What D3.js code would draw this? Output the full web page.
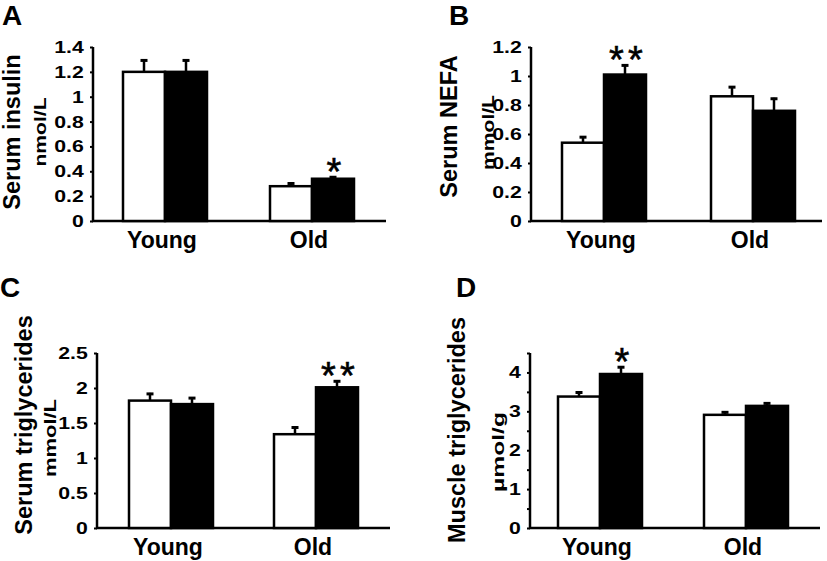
<!DOCTYPE html>
<html><head><meta charset="utf-8">
<script src="https://cdn.jsdelivr.net/npm/d3@7"></script>
<style>
html,body{margin:0;padding:0;background:#fff;}
text{font-family:"Liberation Sans",Arial,sans-serif;font-weight:bold;fill:#000;}
text.sig{font-weight:normal;stroke:#000;stroke-width:0.6px;}
</style></head>
<body>
<svg id="chart" width="827" height="561"></svg>
<script>
// ---- data ----
const groups = ["Young", "Old"];
const seriesNames = ["Control", "Treated"];

const insulinControl = [1.20, 0.28];
const insulinTreated = [1.20, 0.34];
const insulinErrControl = [0.10, 0.03];
const insulinErrTreated = [0.10, 0.02];
const insulinSig = ["", "*"];
const insulinTicks = [0, 0.2, 0.4, 0.6, 0.8, 1, 1.2, 1.4];

const nefaControl = [0.54, 0.86];
const nefaTreated = [1.01, 0.76];
const nefaErrControl = [0.045, 0.07];
const nefaErrTreated = [0.07, 0.09];
const nefaSig = ["**", ""];
const nefaTicks = [0, 0.2, 0.4, 0.6, 0.8, 1, 1.2];

const serumTgControl = [1.82, 1.34];
const serumTgTreated = [1.77, 2.01];
const serumTgErrControl = [0.11, 0.11];
const serumTgErrTreated = [0.10, 0.10];
const serumTgSig = ["", "**"];
const serumTgTicks = [0, 0.5, 1, 1.5, 2, 2.5];

const muscleTgControl = [3.38, 2.91];
const muscleTgTreated = [3.96, 3.14];
const muscleTgErrControl = [0.13, 0.09];
const muscleTgErrTreated = [0.20, 0.09];
const muscleTgSig = ["*", ""];
const muscleTgTicks = [0, 0.5, 1, 1.5, 2, 2.5, 3, 3.5, 4, 4.5];
const muscleTgLabelled = [0, 1, 2, 3, 4];

// ---- panels ----
const panels = [
  {letter:"A", title:"Serum insulin", unit:"nmol/L", control:insulinControl, treated:insulinTreated,
   errC:insulinErrControl, errT:insulinErrTreated, sig:insulinSig, ticks:insulinTicks, labelled:insulinTicks, max:1.4,
   ax:93, axEnd:386, y0:221, yTop:47, centers:[165,312], letterPos:[2,25],
   titleX:19.5, titleY:132, unitX:46, unitY:132, unitLen:69},
  {letter:"B", title:"Serum NEFA", unit:"mmol/L", control:nefaControl, treated:nefaTreated,
   errC:nefaErrControl, errT:nefaErrTreated, sig:nefaSig, ticks:nefaTicks, labelled:nefaTicks, max:1.2,
   ax:531, axEnd:822, y0:221, yTop:47, centers:[604,753], letterPos:[449,25],
   titleX:457, titleY:126.5, unitX:494, unitY:132.5, unitLen:75},
  {letter:"C", title:"Serum triglycerides", unit:"mmol/L", control:serumTgControl, treated:serumTgTreated,
   errC:serumTgErrControl, errT:serumTgErrTreated, sig:serumTgSig, ticks:serumTgTicks, labelled:serumTgTicks, max:2.5,
   ax:97, axEnd:390, y0:528, yTop:353, centers:[171,316], letterPos:[0,297],
   titleX:32, titleY:425, unitX:56, unitY:438, unitLen:78},
  {letter:"D", title:"Muscle triglycerides", unit:"\u00b5mol/g", control:muscleTgControl, treated:muscleTgTreated,
   errC:muscleTgErrControl, errT:muscleTgErrTreated, sig:muscleTgSig, ticks:muscleTgTicks, labelled:muscleTgLabelled, max:4.5,
   ax:530, axEnd:820, y0:528, yTop:353, centers:[600,746], letterPos:[456,297],
   titleX:465, titleY:430, unitX:504, unitY:452, unitLen:80}
];

const svg = d3.select("#chart");
const fmt = v => String(+v.toFixed(1));

panels.forEach(p => {
  const g = svg.append("g");
  const y = d3.scaleLinear().domain([0, p.max]).range([p.y0, p.yTop]);
  const x = d3.scalePoint().domain(groups).range(p.centers);
  const bw = 42;

  // letter
  g.append("text").attr("x", p.letterPos[0]).attr("y", p.letterPos[1])
    .attr("font-size", 28).text(p.letter);

  // titles
  g.append("text").attr("transform", `translate(${p.titleX},${p.titleY}) rotate(-90)`)
    .attr("text-anchor", "middle").attr("font-size", 23.5).text(p.title);
  g.append("text").attr("transform", `translate(${p.unitX},${p.unitY}) rotate(-90)`)
    .attr("text-anchor", "middle").attr("font-size", 17)
    .attr("textLength", p.unitLen).attr("lengthAdjust", "spacingAndGlyphs").text(p.unit);

  // y axis
  const yAxis = d3.axisLeft(y).tickValues(p.ticks).tickSize(3).tickPadding(4)
    .tickFormat(v => p.labelled.some(l => Math.abs(l - v) < 1e-9) ? fmt(v) : "");
  const ag = g.append("g").attr("transform", `translate(${p.ax},0)`).call(yAxis);
  ag.select(".domain").remove();
  ag.selectAll(".tick line").attr("stroke", "#000").attr("stroke-width", 2);
  ag.selectAll(".tick text").attr("font-size", 17).attr("font-family", null)
    .attr("fill", "#000")
    .attr("transform", "translate(-8,0) scale(1.25,1)")
    .attr("x", -1);
  g.append("line").attr("x1", p.ax).attr("x2", p.ax).attr("y1", p.yTop).attr("y2", p.y0 + 1)
    .attr("stroke", "#000").attr("stroke-width", 2.5);
  g.append("line").attr("x1", p.ax - 1).attr("x2", p.axEnd).attr("y1", p.y0).attr("y2", p.y0)
    .attr("stroke", "#000").attr("stroke-width", 2.5);

  // x labels
  g.selectAll(".xl").data(groups).enter().append("text")
    .attr("x", d => x(d) - 3).attr("y", p.y0 + 27)
    .attr("text-anchor", "middle").attr("font-size", 23).text(d => d);

  // bars
  const rows = groups.map((grp, i) => [
    {grp, s:0, v:p.control[i], e:p.errC[i], sig:""},
    {grp, s:1, v:p.treated[i], e:p.errT[i], sig:p.sig[i]}
  ]).flat();

  // error bars (upper only)
  rows.forEach(r => {
    const cx = r.s === 0 ? x(r.grp) - bw / 2 : x(r.grp) + bw / 2;
    g.append("line").attr("x1", cx).attr("x2", cx).attr("y1", y(r.v)).attr("y2", y(r.v + r.e))
      .attr("stroke", "#000").attr("stroke-width", 2.5);
    g.append("line").attr("x1", cx - 3.5).attr("x2", cx + 3.5)
      .attr("y1", y(r.v + r.e) + 1).attr("y2", y(r.v + r.e) + 1)
      .attr("stroke", "#000").attr("stroke-width", 3);
  });

  g.selectAll(".bar").data(rows).enter().append("rect")
    .attr("x", d => d.s === 0 ? x(d.grp) - bw : x(d.grp))
    .attr("width", bw)
    .attr("y", d => y(d.v))
    .attr("height", d => p.y0 - y(d.v))
    .attr("fill", d => d.s === 0 ? "#fff" : "#000")
    .attr("stroke", "#000").attr("stroke-width", 2.5);

  // significance asterisks
  rows.filter(r => r.sig).forEach(r => {
    const cx = x(r.grp) + bw / 2 + 1;
    const t = y(r.v + r.e);
    const n = r.sig.length;
    for (let i = 0; i < n; i++) {
      g.append("text").attr("class", "sig")
        .attr("x", cx + (i - (n - 1) / 2) * 19).attr("y", t + 9)
        .attr("text-anchor", "middle").attr("font-size", 38)
        .text("*");
    }
  });
});
</script>
</body></html>
